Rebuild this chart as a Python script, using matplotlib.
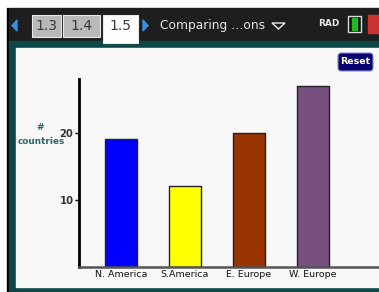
import matplotlib.pyplot as plt
from matplotlib.patches import Rectangle, FancyBboxPatch, Polygon

regions = ['N. America', 'S.America', 'E. Europe', 'W. Europe']
countries = [19, 12, 20, 27]
bar_colors = ['#0000ff', '#ffff00', '#993300', '#775080']
yticks = [10, 20]

W, H = 379, 292
fig = plt.figure(figsize=(W / 100, H / 100), dpi=100)
fig.patch.set_facecolor('white')

# calculator screen decoration, drawn in pixel coords
bg = fig.add_axes([0, 0, 1, 1], zorder=0)
bg.set_xlim(0, W)
bg.set_ylim(H, 0)
bg.axis('off')
bg.add_patch(Rectangle((7, 8), 1.2, H, color='black'))
bg.add_patch(Rectangle((9, 8), W, 35, color='#1e1e1e'))
bg.add_patch(Rectangle((9, 41), W, H, color='#0c4848'))
bg.add_patch(Rectangle((16, 48), W, 239, color='#f8f8f8'))

# tabs
for x0, x1, lab, col, y1 in [(32, 61, '1.3', '#b9b9b9', 37),
                             (63, 100, '1.4', '#b9b9b9', 37),
                             (103, 138, '1.5', '#ffffff', 43)]:
    bg.add_patch(Rectangle((x0, 15), x1 - x0, y1 - 15, facecolor=col,
                           edgecolor='#e8e8e8', lw=0.8))
    bg.text((x0 + x1) / 2, 26, lab, ha='center', va='center',
            fontsize=10, color='#3a3a3a')
bg.add_patch(Polygon([[17, 20], [17, 31], [12, 25.5]], color='#3c8fe0'))
bg.add_patch(Polygon([[143, 20], [143, 31], [148, 25.5]], color='#3c8fe0'))
bg.text(160, 25, 'Comparing \u2026ons', ha='left', va='center',
        fontsize=8.8, color='#e8e8e8')
bg.add_patch(Polygon([[272, 23], [285, 23], [278.5, 29]], closed=True,
                     fill=False, edgecolor='#e8e8e8', lw=1))
bg.text(318, 23, 'RAD', ha='left', va='center', fontsize=6.5,
        fontweight='bold', color='#e8e8e8')
bg.add_patch(Rectangle((348, 16), 13, 16, facecolor='#111111',
                       edgecolor='#dddddd', lw=1))
bg.add_patch(Rectangle((352, 18), 5, 12, color='#22bb22'))
bg.add_patch(Rectangle((368, 15), 12, 18, color='#cc3333'))

# Reset button
bg.add_patch(FancyBboxPatch((338, 53), 35, 18,
                            boxstyle='round,pad=0,rounding_size=3',
                            facecolor='#060070', edgecolor='#8888cc', lw=0.8))
bg.text(355.5, 62, 'Reset', ha='center', va='center', fontsize=6.8,
        fontweight='bold', color='white')

# y label
bg.text(40, 128, '#', ha='center', va='center', fontsize=6.5,
        fontweight='bold', color='#2a6a6a')
bg.text(41, 142, 'countries', ha='center', va='center', fontsize=6.4,
        fontweight='bold', color='#2a6a6a')

# bar chart
ax = fig.add_axes([79 / W, 25 / H, 300 / W, 188 / H], zorder=1)
ax.patch.set_alpha(0)
x = range(len(regions))
ax.bar(x, countries, width=0.5, color=bar_colors, edgecolor='#222222',
       linewidth=1)
ax.set_xlim(-0.656, 4.03)
ax.set_ylim(0, 28)
ax.set_yticks(yticks)
ax.set_yticklabels([str(t) for t in yticks], fontsize=7.2, fontweight='bold',
                   color='#333333')
ax.set_xticks(list(x))
ax.set_xticklabels(regions, fontsize=6.8, color='#111111')
ax.tick_params(axis='x', length=0, pad=2)
ax.tick_params(axis='y', length=3, width=1, pad=1)
for s in ['top', 'right']:
    ax.spines[s].set_visible(False)
ax.spines['left'].set_linewidth(2)
ax.spines['left'].set_color('black')
ax.spines['bottom'].set_linewidth(1.8)
ax.spines['bottom'].set_color('#555555')

fig.savefig('out.png', dpi=100)
